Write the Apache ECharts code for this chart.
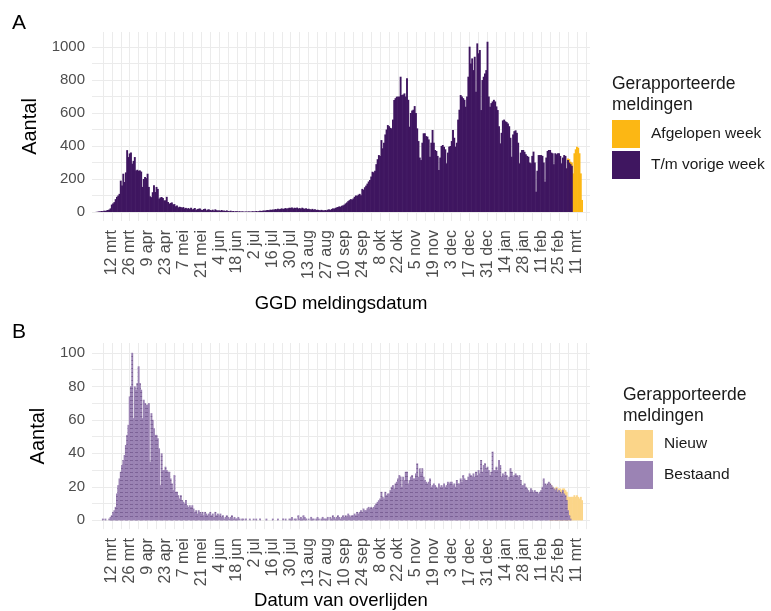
<!DOCTYPE html>
<html><head><meta charset="utf-8">
<script src="https://cdn.jsdelivr.net/npm/echarts@6/dist/echarts.min.js"></script>
<style>html,body{margin:0;padding:0;background:#fff}#c{width:771px;height:611px}</style>
</head><body><div id="c"></div>
<script>
// Day 0 = 27 feb 2020, one value per day up to 15 mrt 2021
const tickLabels = ['12 mrt','26 mrt','9 apr','23 apr','7 mei','21 mei','4 jun','18 jun','2 jul','16 jul','30 jul','13 aug','27 aug','10 sep','24 sep','8 okt','22 okt','5 nov','19 nov','3 dec','17 dec','31 dec','14 jan','28 jan','11 feb','25 feb','11 mrt'];
const firstTickDay = 14;   // 12 mrt
const tickStepDays = 14;

// Panel A: GGD meldingen, "T/m vorige week"
const casesPrev = [
0,0,1,2,3,4,6, 5,8,7,10,12,15,22, 45,52,60,78,92,100,110, 190,160,232,182,240,375,333,
355,360,293,310,333,252,256, 250,252,245,152,200,212,205, 232,152,95,90,120,162,121,
152,140,81,88,91,85,70, 71,92,60,50,55,58,46, 48,35,40,28,32,30,26, 30,22,25,20,24,18,26,
16,20,24,12,18,20,22, 14,12,18,20,10,15,16, 12,10,14,8,16,11,9, 10,8,12,7,9,6,10,
6,5,8,4,6,3,5, 4,3,5,2,4,3,2, 3,2,4,3,2,5,4, 3,6,4,5,7,6,8, 9,8,11,12,10,14,13,
15,14,18,16,20,17,19, 22,18,21,24,20,23,26, 25,28,22,26,24,27,21, 24,20,26,22,19,23,18,
20,17,15,19,14,16,12, 14,12,10,13,11,9,12, 10,14,16,12,18,22,20, 25,28,30,34,32,38,40,
45,52,58,66,72,78,75, 82,92,100,98,105,110,102, 140,135,150,160,172,185,194,
215,244,240,250,290,320,345, 340,436,386,420,470,500,527, 520,510,507,560,679,690,699,
699,700,820,709,712,719,700, 810,680,517,600,615,620,642, 600,507,430,330,315,420,477,
477,460,457,440,335,420,497, 420,376,370,340,255,330,400, 406,395,380,295,360,396,400,
430,497,450,396,420,560,620, 709,700,690,680,638,700,820, 1002,900,931,860,941,729,1022,
962,982,618,800,820,840,860, 1032,700,638,660,670,680,670, 640,618,520,416,480,555,560,
550,545,537,520,450,335,470, 490,495,480,420,295,360,376, 376,365,350,340,335,300,295,
340,366,300,123,250,345,345, 345,340,300,184,330,370,376, 376,360,356,290,356,350,356,
356,340,295,330,345,340,265, 315,300,290,280,0,0,0, 0,0,0,0,0
];
// Panel A: "Afgelopen week", starting at day 371
const casesLastWeekStart = 371;
const casesLastWeek = [10,20,15,20,234,356,380,396,390,356,234,73];

// Panel B: overlijdens, "Bestaand"
const deathsPrev = [
0,0,0,0,0,0,0, 1,0,1,0,0,1,2, 3,5,6,8,16,21,25, 29,33,36,39,45,51,57,
74,80,100,61,80,78,82, 92,82,78,61,72,70,69, 69,70,35,64,60,55,51, 51,49,43,21,40,30,30,
32,30,29,29,25,22,18, 27,17,17,15,13,15,12, 11,10,12,9,8,9,8, 9,7,5,6,4,6,5,
4,5,3,5,4,3,4, 5,3,4,2,5,3,4, 3,4,2,3,1,2,3, 2,1,2,3,1,2,1, 1,2,1,0,1,1,0,
1,0,0,1,0,0,1, 0,1,0,0,1,0,0, 0,0,1,0,0,0,0, 1,0,0,0,1,0,0, 0,1,0,1,0,0,1,
1,2,0,1,1,0,3, 1,2,1,3,2,1,0, 1,0,2,1,1,0,1, 2,1,0,1,2,1,1, 1,2,0,2,1,3,2,
1,2,3,2,1,2,3, 2,3,2,4,3,2,3, 3,4,3,5,4,5,6, 5,7,6,6,7,8,7, 8,7,8,9,10,11,12,
13,17,14,13,17,15,16, 16,18,20,21,19,22,23, 25,27,26,20,26,24,29, 29,22,24,26,27,25,25,
28,34,26,31,28,31,26, 24,23,22,23,25,20,21, 22,21,20,19,22,20,21, 20,22,20,21,23,22,23,
23,21,22,20,24,22,22, 25,23,27,25,24,24,26, 28,27,26,28,26,29,27, 30,28,36,29,33,34,31,
32,30,27,29,41,30,30, 32,30,36,33,26,28,27, 29,27,24,26,31,29,26, 27,28,27,26,27,24,21,
21,22,20,19,18,17,19, 18,17,18,17,17,16,17, 18,20,25,22,21,22,23, 22,21,20,19,18,19,17,
18,17,16,18,16,15,12, 6,3,1,0,0,0,0, 0,0,0,0,0
];
// Panel B: "Nieuw", starting at day 357
const deathsNewStart = 357;
const deathsNew = [0,0,0,0,1,1,1, 1,2,2,1,3,3,5, 8,11,13,14,14,15,14, 15,14,13,14,12];

const FONT = "'Liberation Sans', Arial, sans-serif";
const nDays = casesPrev.length;
const labelDays = tickLabels.map((_, k) => firstTickDay + k * tickStepDays);
const labelMap = {}; labelDays.forEach((d, k) => labelMap[d] = tickLabels[k]);
const gridDays = [];
for (let d = firstTickDay - tickStepDays / 2; d <= nDays + 3; d += tickStepDays / 2) gridDays.push(d);

const prevA = casesPrev.map((v, i) => [i, v]);
const totA = casesLastWeek.map((v, k) => [casesLastWeekStart + k, v + casesPrev[casesLastWeekStart + k]]);
const prevB = deathsPrev.map((v, i) => [i, v]);
const totB = deathsNew.map((v, k) => [deathsNewStart + k, v + deathsPrev[deathsNewStart + k]]);

function xAx(gi, name, gap) {
  return {
    type: 'value', gridIndex: gi, min: -1.5, max: 388.2,
    axisLine: { show: false },
    axisTick: { show: false, customValues: gridDays },
    splitLine: { show: true, lineStyle: { color: '#ebebeb', width: 1 } },
    axisLabel: { customValues: labelDays, formatter: v => labelMap[v] || '', rotate: 90,
      fontSize: 16, color: '#4d4d4d', margin: 9, fontFamily: FONT },
    name: name, nameLocation: 'middle', nameGap: gap,
    nameTextStyle: { fontSize: 18.5, color: '#000', fontFamily: FONT }
  };
}
function yAx(gi, min, max, minorStep, labStep, top) {
  const t = [], l = [];
  for (let v = 0; v <= top; v += minorStep) t.push(v);
  for (let v = 0; v <= top; v += labStep) l.push(v);
  return {
    type: 'value', gridIndex: gi, min: min, max: max,
    axisLine: { show: false },
    axisTick: { show: false, customValues: t },
    splitLine: { show: true, lineStyle: { color: '#ebebeb', width: 1 } },
    axisLabel: { customValues: l, formatter: v => String(v), fontSize: 15, color: '#4d4d4d', margin: 7, fontFamily: FONT },
    name: 'Aantal', nameLocation: 'middle', nameGap: 44, nameRotate: 90,
    nameTextStyle: { fontSize: 20, color: '#000', fontFamily: FONT }
  };
}

const decalB = { symbol: 'rect', symbolSize: 1, dashArrayX: [[3, 2]], dashArrayY: [1, 3], color: 'rgba(55,25,85,0.33)' };

const chart = echarts.init(document.getElementById('c'), null, { renderer: 'canvas' });
chart.setOption({
  animation: false,
  backgroundColor: '#fff',
  textStyle: { fontFamily: FONT },
  title: [
    { text: 'A', left: 12, top: 13, padding: 0, textStyle: { fontSize: 21, fontWeight: 'normal', color: '#000', fontFamily: FONT } },
    { text: 'B', left: 12, top: 322, padding: 0, textStyle: { fontSize: 21, fontWeight: 'normal', color: '#000', fontFamily: FONT } },
    { text: 'Gerapporteerde\nmeldingen', left: 612, top: 74, padding: 0, textStyle: { fontSize: 17.5, lineHeight: 21, fontWeight: 'normal', color: '#1a1a1a', fontFamily: FONT } },
    { text: 'Gerapporteerde\nmeldingen', left: 623, top: 385, padding: 0, textStyle: { fontSize: 17.5, lineHeight: 21, fontWeight: 'normal', color: '#1a1a1a', fontFamily: FONT } }
  ],
  legend: [
    { left: 612, top: 120, orient: 'vertical', itemWidth: 28, itemHeight: 28, itemGap: 3, icon: 'rect', padding: 0,
      selectedMode: false, data: ['Afgelopen week', 'T/m vorige week'],
      textStyle: { fontSize: 15.5, color: '#1a1a1a', padding: [0, 0, 0, 6], fontFamily: FONT } },
    { left: 625, top: 430, orient: 'vertical', itemWidth: 28, itemHeight: 28, itemGap: 3, icon: 'rect', padding: 0,
      selectedMode: false,
      data: [{ name: 'Nieuw', itemStyle: { decal: 'none' } }, { name: 'Bestaand', itemStyle: { decal: 'none' } }],
      textStyle: { fontSize: 15.5, color: '#1a1a1a', padding: [0, 0, 0, 6], fontFamily: FONT } }
  ],
  grid: [
    { left: 92, right: 181, top: 32, height: 189 },
    { left: 92, right: 181, top: 343, height: 189 }
  ],
  xAxis: [ xAx(0, 'GGD meldingsdatum', 73), xAx(1, 'Datum van overlijden', 60) ],
  yAxis: [ yAx(0, -54.5, 1091, 100, 200, 1000), yAx(1, -5.3, 105.9, 10, 20, 100) ],
  series: [
    { name: 'Afgelopen week', type: 'bar', xAxisIndex: 0, yAxisIndex: 0, data: totA, barWidth: 1.9, barGap: '-100%',
      itemStyle: { color: '#fcb714' } },
    { name: 'T/m vorige week', type: 'bar', xAxisIndex: 0, yAxisIndex: 0, data: prevA, barWidth: 1.9, barGap: '-100%',
      itemStyle: { color: '#3f1660' } },
    { name: 'Nieuw', type: 'bar', xAxisIndex: 1, yAxisIndex: 1, data: totB, barWidth: 1.9, barGap: '-100%',
      itemStyle: { color: '#fbd589' } },
    { name: 'Bestaand', type: 'bar', xAxisIndex: 1, yAxisIndex: 1, data: prevB, barWidth: 1.9, barGap: '-100%',
      itemStyle: { color: '#9b83b4', decal: decalB } }
  ]
});
</script></body></html>
